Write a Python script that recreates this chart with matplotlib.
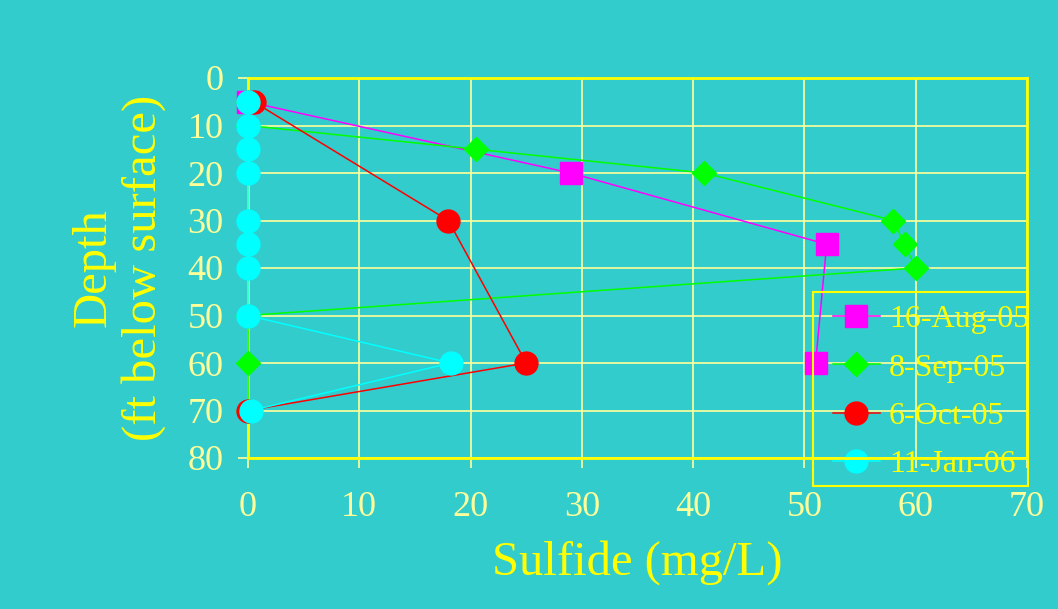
import matplotlib
matplotlib.use("Agg")
import matplotlib.pyplot as plt
from matplotlib.patches import Rectangle

# Data
aug_x = [0, 29, 52, 51]
aug_y = [5, 20, 35, 60]
sep_x = [0, 0, 20.5, 41, 58, 59, 60, 0, 0, 0]
sep_y = [5, 10, 15, 20, 30, 35, 40, 50, 60, 70]
oct_x = [0.5, 18, 25, 0]
oct_y = [5, 30, 60, 70]
jan_x = [0, 0, 0, 0, 0, 0, 0, 0, 18.2, 0.3]
jan_y = [5, 10, 15, 20, 30, 35, 40, 50, 60, 70]
labels = ["16-Aug-05", "8-Sep-05", "6-Oct-05", "11-Jan-06"]
xticks = [0, 10, 20, 30, 40, 50, 60, 70]
yticks = [0, 10, 20, 30, 40, 50, 60, 70, 80]

BG = "#33CCCC"
YEL = "#FFFF00"
PALE = "#FFFF99"

plt.rcParams['font.family'] = ['Liberation Serif', 'DejaVu Serif']

W, H = 1058, 609
fig = plt.figure(figsize=(W/100, H/100), dpi=100, facecolor=BG)
ax = fig.add_axes([248/W, 1-458/H, (1027-248)/W, (458-78)/H])
ax.set_facecolor(BG)

ax.plot(aug_x, aug_y, color="#FF00FF", lw=1.1, marker="s", ms=16, mec="#FF00FF", mfc="#FF00FF", label=labels[0], zorder=3, clip_on=False)
ax.plot(sep_x, sep_y, color="#00FF00", lw=1.1, marker="D", ms=12.5, mec="#00FF00", mfc="#00FF00", label=labels[1], zorder=4, clip_on=False)
ax.plot(oct_x, oct_y, color="#FF0000", lw=1.1, marker="o", ms=16.5, mec="#FF0000", mfc="#FF0000", label=labels[2], zorder=5, clip_on=False)
ax.plot(jan_x, jan_y, color="#00FFFF", lw=1.1, marker="o", ms=16.5, mec="#00FFFF", mfc="#00FFFF", label=labels[3], zorder=6, clip_on=False)

ax.set_xlim(0, 70)
ax.set_ylim(80, 0)
ax.set_xticks(xticks)
ax.set_yticks(yticks)
ax.grid(True, color=PALE, lw=1.2, zorder=0)
ax.set_axisbelow(True)
for s in ax.spines.values():
    s.set_color(YEL)
    s.set_linewidth(2)
ax.tick_params(axis='both', colors=PALE, labelcolor=PALE, labelsize=26, length=7.5, width=1.2, direction='out')
ax.tick_params(axis='x', pad=16)
ax.tick_params(axis='y', pad=10)

fig.text(637/W, 1-563/H, "Sulfide (mg/L)", color=YEL, fontsize=35, ha='center', va='center')
fig.text(119/W, 1-268/H, "Depth\n(ft below surface)", color=YEL, fontsize=35, ha='center', va='center',
         rotation=90, linespacing=1.15, multialignment='center')

# legend frame drawn separately
fig.patches.append(Rectangle((813/W, 1-486/H), (1028-813)/W, (486-292)/H, transform=fig.transFigure,
                             facecolor='none', edgecolor=YEL, lw=1.5, zorder=0))

leg = ax.legend(loc="center left", bbox_to_anchor=(833/W, 1-392/H),
                bbox_transform=fig.transFigure, frameon=False,
                fontsize=23, labelcolor=YEL, handlelength=1.47, handletextpad=0.28,
                labelspacing=0.59, borderpad=0, borderaxespad=0)
leg.set_zorder(1)

fig.savefig("out.png", dpi=100, facecolor=BG)
